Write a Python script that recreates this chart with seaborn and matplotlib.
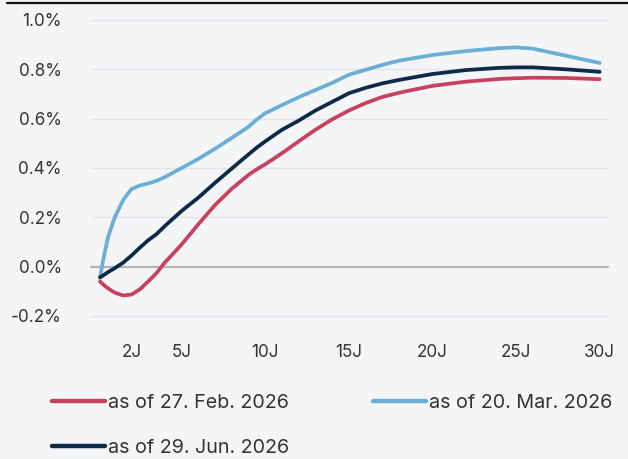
import matplotlib
matplotlib.use("Agg")
import matplotlib.pyplot as plt
from matplotlib.lines import Line2D
import pandas as pd
import seaborn as sns

# Yield curve tenors (years) and yields (%) for each curve date
tenors = [0.12, 0.3, 0.6, 1, 1.5, 2, 2.5, 3, 3.5, 4, 5, 6, 7, 8, 9, 9.5, 10,
          11, 12, 13, 14, 15, 16, 17, 18, 20, 22, 24, 25, 26, 28, 30]
curve_feb = [-0.06, -0.072, -0.088, -0.105, -0.117, -0.113, -0.092, -0.06,
             -0.026, 0.017, 0.09, 0.172, 0.25, 0.316, 0.372, 0.395, 0.415,
             0.46, 0.508, 0.555, 0.597, 0.633, 0.663, 0.688, 0.705, 0.733,
             0.75, 0.761, 0.764, 0.766, 0.765, 0.76]
curve_mar = [-0.046, 0.025, 0.12, 0.20, 0.27, 0.315, 0.329, 0.337, 0.348,
             0.363, 0.40, 0.437, 0.478, 0.522, 0.567, 0.597, 0.622, 0.655,
             0.687, 0.716, 0.745, 0.778, 0.798, 0.818, 0.835, 0.858, 0.874,
             0.886, 0.889, 0.884, 0.855, 0.826]
curve_jun = [-0.043, -0.036, -0.022, -0.006, 0.016, 0.045, 0.077, 0.107,
             0.132, 0.165, 0.226, 0.28, 0.34, 0.398, 0.455, 0.483, 0.508,
             0.555, 0.592, 0.633, 0.668, 0.703, 0.725, 0.743, 0.757, 0.781,
             0.797, 0.806, 0.808, 0.808, 0.80, 0.79]

series_labels = ["as of 27. Feb. 2026", "as of 20. Mar. 2026", "as of 29. Jun. 2026"]
series_colors = ["#c8415f", "#6baed6", "#0d2a48"]

x_ticks = [2, 5, 10, 15, 20, 25, 30]
x_tick_labels = ["2J", "5J", "10J", "15J", "20J", "25J", "30J"]
y_ticks = [-0.2, 0.0, 0.2, 0.4, 0.6, 0.8, 1.0]

frames = []
for label, values in zip(series_labels, [curve_feb, curve_mar, curve_jun]):
    frames.append(pd.DataFrame({"tenor": tenors, "yield": values, "curve": label}))
df = pd.concat(frames, ignore_index=True)

bg = "#f4f5f7"
sns.set_theme(style="white")
plt.rcParams["font.family"] = ["Inter", "DejaVu Sans"]

fig = plt.figure(figsize=(6.28, 4.59), dpi=100, facecolor=bg)
ax = fig.add_axes([91 / 628, 1 - 316 / 459, (608 - 91) / 628, (316 - 20) / 459])
ax.set_facecolor(bg)

for yt in y_ticks:
    if yt == 0:
        ax.axhline(yt, color="#b4b4b4", lw=1.6, zorder=1)
    else:
        ax.axhline(yt, color="#e4e5e8", lw=1.0, zorder=1)

sns.lineplot(data=df, x="tenor", y="yield", hue="curve", hue_order=series_labels,
             palette=series_colors, linewidth=2.7, ax=ax, legend=False,
             sort=False, zorder=3)
for line in ax.lines:
    line.set_solid_capstyle("round")
    line.set_solid_joinstyle("round")
    line.set_clip_on(False)

ax.set_xlim(-0.42, 30.5)
ax.set_ylim(-0.2, 1.0)
ax.set_xticks(x_ticks)
ax.set_xticklabels(x_tick_labels)
ax.set_yticks(y_ticks)
ax.set_yticklabels([f"{v:.1f}%" for v in y_ticks])
ax.tick_params(axis="both", length=0, labelsize=12.3, colors="#333333")
ax.tick_params(axis="x", pad=20)
ax.tick_params(axis="y", pad=21)
ax.set_xlabel("")
ax.set_ylabel("")
for s in ax.spines.values():
    s.set_visible(False)

# Rule along the top of the figure
fig.add_artist(Line2D([7 / 628, 1.0], [1 - 2.5 / 459, 1 - 2.5 / 459],
                      transform=fig.transFigure, color="#111111", lw=1.6))

# Legend laid out row by row: Feb | Mar on the first row, Jun below
order = [0, 2, 1]
handles = [Line2D([0], [0], color=series_colors[i], lw=3.2, solid_capstyle="round")
           for i in order]
labels = [series_labels[i] for i in order]
fig.legend(handles, labels, ncol=2, loc="upper left",
           bbox_to_anchor=(34 / 628, 1 - 376 / 459), frameon=False,
           fontsize=14.2, handlelength=2.7, handletextpad=0.15,
           columnspacing=4.26, labelspacing=1.38, labelcolor="#333333")

fig.savefig("out.png", dpi=100, facecolor=bg)
